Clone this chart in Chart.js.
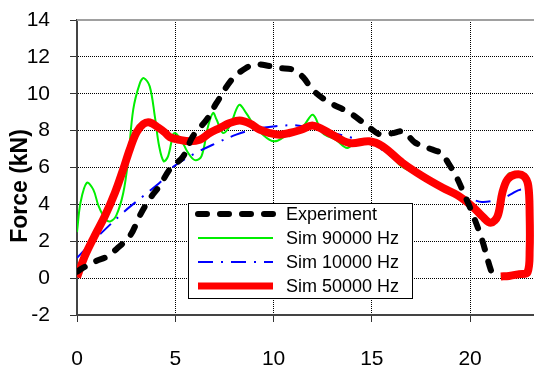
<!DOCTYPE html>
<html><head><meta charset="utf-8">
<script src="https://cdn.jsdelivr.net/npm/chart.js@4/dist/chart.umd.min.js"></script>
<style>html,body{margin:0;padding:0;background:#fff}canvas{display:block}</style>
</head><body>
<canvas id="c" width="534" height="368"></canvas>
<script>
// ---- data ----
const seriesNames = ['Experiment', 'Sim 90000 Hz', 'Sim 10000 Hz', 'Sim 50000 Hz'];

const expX = [0, 0.3, 1.0, 1.5, 2.0, 2.7, 3.2, 3.7, 4.2, 4.72, 5.4, 5.9, 6.6, 7.1, 7.9, 8.6, 9.1, 9.8, 10.3, 11.0, 11.5, 12.0, 12.8, 13.9, 14.9, 15.4, 16.0, 16.6, 17.2, 18.0, 18.6, 18.8, 19.3, 19.6, 20.1, 20.6, 21.1, 21.3];
const expY = [0.35, 0.55, 0.94, 1.15, 1.57, 2.3, 3.4, 4.3, 5.0, 5.9, 6.6, 7.7, 8.6, 9.5, 10.8, 11.4, 11.6, 11.5, 11.4, 11.3, 10.9, 10.2, 9.55, 8.95, 8.15, 7.8, 7.85, 7.95, 7.35, 7.0, 6.75, 6.4, 5.5, 4.8, 3.55, 2.1, 0.3, 0.05];

const sim90X = [0, 0.18, 0.5, 0.83, 1.1, 1.45, 1.7, 2.0, 2.35, 2.6, 2.86, 3.2, 3.4, 3.7, 3.96, 4.18, 4.41, 4.63, 4.89, 5.0, 5.3, 5.65, 6.0, 6.33, 6.67, 6.92, 7.1, 7.43, 7.8, 8.1, 8.28, 8.6, 9.13, 9.8, 10.2, 10.8, 11.5, 12.0, 12.5, 13.18, 13.75, 14.2, 14.7, 15.55, 16.47, 17.6, 18.5, 19.4, 20.1, 20.6, 21.05, 21.4, 21.64, 21.95, 22.3, 22.74, 22.96, 23.03, 23.03, 22.92, 22.5, 21.98, 21.56];
const sim90Y = [2.5, 4.1, 5.17, 4.8, 3.9, 3.2, 3.08, 3.4, 4.6, 6.4, 9.14, 10.58, 10.85, 10.4, 8.77, 7.15, 6.34, 6.6, 7.78, 7.87, 7.5, 6.8, 6.4, 6.6, 8.24, 8.96, 8.6, 7.87, 8.3, 9.14, 9.4, 8.96, 8.14, 7.5, 7.45, 7.87, 8.24, 8.86, 7.87, 7.5, 7.06, 7.45, 7.5, 7.2, 6.1, 5.5, 4.95, 4.45, 3.9, 3.35, 2.95, 3.4, 4.7, 5.65, 5.68, 5.55, 5.0, 3.37, 1.57, 0.31, 0.22, 0.12, 0.09];

const sim10X = [0, 1.0, 2.44, 3.37, 4.38, 4.72, 6.06, 7.1, 8.1, 8.95, 10.1, 11.3, 12.67, 14.03, 15.0, 16.0, 17.0, 18.0, 19.0, 20.1, 20.6, 21.13, 21.64, 22.06, 22.6, 22.95, 23.02, 22.95, 22.8];
const sim10Y = [1.1, 2.2, 3.64, 4.45, 5.35, 5.9, 6.8, 7.33, 7.78, 8.05, 8.24, 8.27, 7.96, 7.6, 7.3, 6.6, 6.0, 5.3, 4.65, 4.27, 4.13, 4.18, 4.31, 4.54, 4.81, 4.6, 3.0, 1.0, 0.6];

const sim50X = [0, 0.4, 0.9, 1.42, 1.93, 2.35, 2.69, 3.03, 3.37, 3.7, 4.13, 4.47, 4.72, 5.23, 5.74, 6.24, 6.75, 7.26, 7.77, 8.28, 8.8, 9.3, 9.8, 10.3, 10.8, 11.4, 12.0, 12.84, 13.86, 14.87, 15.55, 16.56, 17.57, 18.6, 19.35, 20.1, 20.6, 21.05, 21.4, 21.64, 21.9, 22.3, 22.74, 22.96, 23.03, 23.03, 22.92, 22.5, 21.98, 21.56];
const sim50Y = [0.05, 1.2, 2.3, 3.37, 4.63, 5.9, 7.0, 7.9, 8.35, 8.44, 8.17, 7.9, 7.65, 7.5, 7.42, 7.5, 7.87, 8.14, 8.41, 8.55, 8.38, 8.05, 7.87, 7.78, 7.87, 8.05, 8.27, 7.87, 7.33, 7.42, 7.15, 6.25, 5.53, 4.9, 4.5, 3.9, 3.37, 3.0, 3.37, 4.63, 5.35, 5.62, 5.53, 5.0, 3.37, 1.57, 0.31, 0.22, 0.12, 0.09];

const xTickValues = [0, 5, 10, 15, 20];
const yTickValues = [-2, 0, 2, 4, 6, 8, 10, 12, 14];
const yAxisTitle = 'Force (kN)';

// ---- chart ----
const FONT = '"Liberation Sans", Arial, Helvetica, sans-serif';
const pts = (xs, ys) => xs.map((x, i) => ({x: x, y: ys[i]}));

const frameLine = {
  id: 'frameLine',
  beforeDatasetsDraw(chart) {
    const {ctx, chartArea: a} = chart;
    ctx.save();
    ctx.strokeStyle = '#a0a0a0';
    ctx.lineWidth = 2;
    ctx.beginPath();
    ctx.moveTo(a.left, a.top);
    ctx.lineTo(a.right, a.top);
    ctx.stroke();
    ctx.restore();
  }
};

const yTitle = {
  id: 'yTitle',
  afterDraw(chart) {
    const ctx = chart.ctx;
    ctx.save();
    ctx.translate(21, 186);
    ctx.rotate(-Math.PI / 2);
    ctx.fillStyle = '#000';
    ctx.font = 'bold 23px ' + FONT;
    ctx.textAlign = 'center';
    ctx.textBaseline = 'middle';
    ctx.fillText(yAxisTitle, 0, 0);
    ctx.restore();
  }
};

const boxLegend = {
  id: 'boxLegend',
  afterDraw(chart) {
    const ctx = chart.ctx;
    const bx = 188, by = 203, bw = 224, bh = 95;
    ctx.save();
    ctx.fillStyle = '#fff';
    ctx.fillRect(bx, by, bw, bh);
    ctx.strokeStyle = '#000';
    ctx.lineWidth = 1;
    ctx.strokeRect(bx + 0.5, by + 0.5, bw, bh);
    [0, 1, 2, 3].forEach((i, row) => {
      const ds = chart.data.datasets[i];
      const y = by + 11 + row * 24;
      ctx.save();
      ctx.beginPath();
      ctx.rect(bx + 1, by + 1, bw - 2, bh - 2);
      ctx.clip();
      ctx.beginPath();
      ctx.setLineDash(ds.borderDash || []);
      ctx.lineCap = ds.borderCapStyle || 'butt';
      ctx.strokeStyle = ds.borderColor;
      ctx.lineWidth = Math.min(ds.borderWidth, 7);
      ctx.moveTo(198, y);
      ctx.lineTo(273, y);
      ctx.stroke();
      ctx.restore();
      ctx.fillStyle = '#000';
      ctx.font = '18px ' + FONT;
      ctx.textAlign = 'left';
      ctx.textBaseline = 'middle';
      ctx.fillText(ds.label, 286, y + 1);
    });
    ctx.restore();
  }
};

new Chart(document.getElementById('c'), {
  type: 'line',
  data: {
    datasets: [
      {label: seriesNames[0], data: pts(expX, expY), borderColor: '#000000', borderWidth: 6,
       borderDash: [9, 13], borderCapStyle: 'round', tension: 0.35, pointRadius: 0, order: 0, clip: 0},
      {label: seriesNames[1], data: pts(sim90X, sim90Y), borderColor: '#00ee00', borderWidth: 2,
       tension: 0.35, pointRadius: 0, order: 3, clip: 0},
      {label: seriesNames[2], data: pts(sim10X, sim10Y), borderColor: '#0000ff', borderWidth: 2,
       borderDash: [15, 8, 2, 8], tension: 0.35, pointRadius: 0, order: 2, clip: 0},
      {label: seriesNames[3], data: pts(sim50X, sim50Y), borderColor: '#ff0000', borderWidth: 8,
       borderCapStyle: 'butt', borderJoinStyle: 'round', tension: 0.35, pointRadius: 0, order: 1, clip: 0}
    ]
  },
  options: {
    responsive: false,
    devicePixelRatio: 1,
    animation: false,
    layout: {padding: {top: 20, left: 0, right: 0, bottom: 0}},
    plugins: {legend: {display: false}, tooltip: {enabled: false}, title: {display: false}},
    scales: {
      x: {
        type: 'linear', min: 0, max: 23.25,
        afterBuildTicks: s => { s.ticks = xTickValues.map(v => ({value: v})); },
        afterFit: s => { s.height = 53; s.paddingLeft = 0; s.paddingRight = 0; },
        ticks: {font: {family: FONT, size: 21}, color: '#000', padding: 25, maxRotation: 0, autoSkip: false},
        grid: {color: '#000', lineWidth: 1, tickLength: 7, tickColor: '#333', tickWidth: 1, tickBorderDash: []},
        border: {display: true, color: '#444', width: 2, dash: [1, 1]}
      },
      y: {
        type: 'linear', min: -2, max: 14,
        afterBuildTicks: s => { s.ticks = yTickValues.map(v => ({value: v})); },
        afterFit: s => { s.width = 77; s.paddingTop = 0; s.paddingBottom = 0; },
        ticks: {font: {family: FONT, size: 21}, color: '#000', padding: 20, autoSkip: false},
        grid: {color: '#000', lineWidth: 1, tickLength: 7, tickColor: '#333', tickWidth: 1, tickBorderDash: []},
        border: {display: true, color: '#444', width: 2, dash: [1, 1]}
      }
    }
  },
  plugins: [frameLine, yTitle, boxLegend]
});
</script>
</body></html>
